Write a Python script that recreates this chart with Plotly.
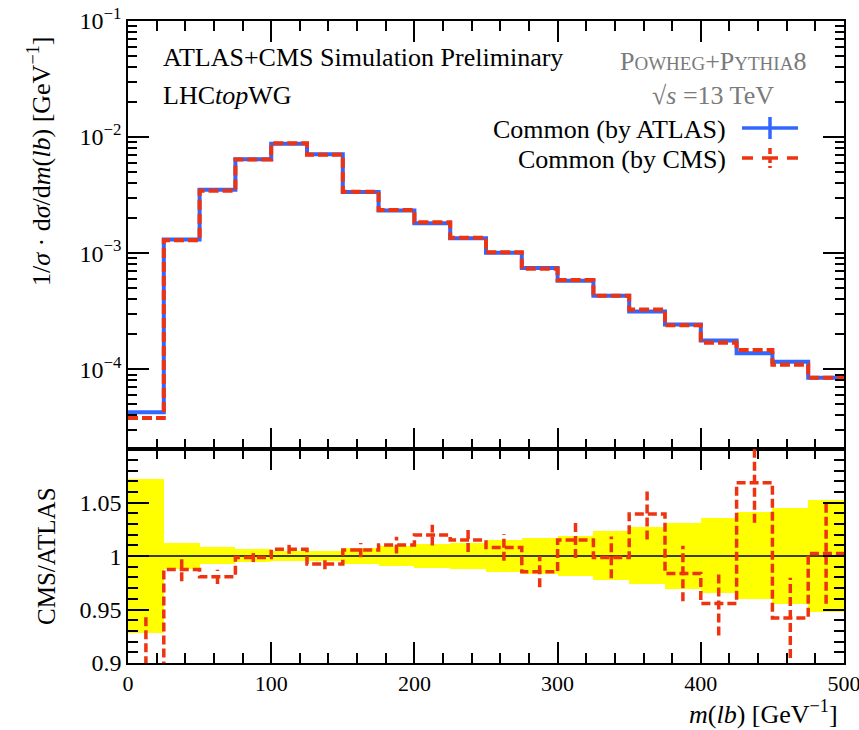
import plotly.graph_objects as go

# ---------------- data ----------------
bin_edges = [0, 25, 50, 75, 100, 125, 150, 175, 200, 225, 250,
             275, 300, 325, 350, 375, 400, 425, 450, 475, 500]
atlas_vals = [4.26e-5, 1.31e-3, 3.52e-3, 6.43e-3, 8.77e-3, 7.10e-3, 3.36e-3,
              2.33e-3, 1.81e-3, 1.34e-3, 1.007e-3, 7.43e-4, 5.78e-4, 4.30e-4,
              3.14e-4, 2.43e-4, 1.77e-4, 1.37e-4, 1.16e-4, 8.43e-5]
cms_vals = [3.79e-5, 1.294e-3, 3.452e-3, 6.422e-3, 8.825e-3, 7.047e-3, 3.379e-3,
            2.354e-3, 1.846e-3, 1.360e-3, 1.015e-3, 7.32e-4, 5.867e-4, 4.295e-4,
            3.264e-4, 2.391e-4, 1.692e-4, 1.464e-4, 1.093e-4, 8.45e-5]
ratio_vals = [0.89, 0.9875, 0.9806, 0.9988, 1.0063, 0.9925, 1.0056, 1.0103,
              1.0197, 1.015, 1.0081, 0.9853, 1.015, 0.9988, 1.0394, 0.9838,
              0.9557, 1.0687, 0.9422, 1.0025]
ratio_errs = [0.053, 0.011, 0.0067, 0.0044, 0.0042, 0.0048, 0.0067, 0.0078,
              0.0097, 0.0112, 0.0125, 0.0145, 0.0167, 0.0195, 0.0239, 0.026,
              0.030, 0.0375, 0.0375, 0.047]
atlas_band = [0.072, 0.0125, 0.008, 0.006, 0.0047, 0.005, 0.0078, 0.0097,
              0.011, 0.0119, 0.0153, 0.0172, 0.019, 0.023, 0.0266, 0.0305,
              0.0351, 0.0406, 0.0448, 0.0523]
main_ytickvals = [1e-4, 1e-3, 1e-2, 1e-1]
main_yticktext = ["10<sup>−4</sup>", "10<sup>−3</sup>", "10<sup>−2</sup>", "10<sup>−1</sup>"]
ratio_tickvals = [0.9, 0.95, 1.0, 1.05, 1.1]
ratio_ticktext = ["0.9", "0.95", "1", "1.05", ""]
x_tickvals = [0, 100, 200, 300, 400, 500]

BLUE = "#3366FF"
RED = "#EE3311"
FONT = "Liberation Serif"

centers = [(bin_edges[i] + bin_edges[i + 1]) / 2 for i in range(len(atlas_vals))]
widths = [bin_edges[i + 1] - bin_edges[i] for i in range(len(atlas_vals))]

W, H = 859, 730
ML, MR, MT, MB = 128, 15, 21, 67
PW, PH = W - ML - MR, H - MT - MB


def px(x, y):
    return (x - ML) / PW, (H - MB - y) / PH


fig = go.Figure()

# main panel
fig.add_trace(go.Scatter(x=bin_edges, y=atlas_vals + [atlas_vals[-1]], mode="lines",
                         line=dict(shape="hv", color=BLUE, width=4),
                         xaxis="x", yaxis="y", showlegend=False))
fig.add_trace(go.Scatter(x=bin_edges, y=cms_vals + [cms_vals[-1]], mode="lines",
                         line=dict(shape="hv", color=RED, width=4, dash="10px,4px"),
                         xaxis="x", yaxis="y", showlegend=False))

# ratio panel: ATLAS uncertainty band
fig.add_trace(go.Bar(x=centers, y=[2 * b for b in atlas_band],
                     base=[1 - b for b in atlas_band], width=widths,
                     marker=dict(color="#FFFF00", line=dict(width=0)),
                     xaxis="x2", yaxis="y2", showlegend=False, hoverinfo="skip"))
fig.add_trace(go.Scatter(x=[bin_edges[0], bin_edges[-1]], y=[1, 1], mode="lines",
                         line=dict(color="black", width=1.5),
                         xaxis="x2", yaxis="y2", showlegend=False))
fig.add_trace(go.Scatter(x=bin_edges, y=ratio_vals + [ratio_vals[-1]], mode="lines",
                         line=dict(shape="hv", color=RED, width=3.5, dash="9px,4px"),
                         xaxis="x2", yaxis="y2", showlegend=False))
ex, ey = [], []
for c, r, e in zip(centers, ratio_vals, ratio_errs):
    ex += [c, c, None]
    ey += [r - e, r + e, None]
fig.add_trace(go.Scatter(x=ex, y=ey, mode="lines",
                         line=dict(color=RED, width=3.5, dash="9px,4px"),
                         xaxis="x2", yaxis="y2", showlegend=False))

axis_common = dict(showline=True, linecolor="black", linewidth=1.5, mirror="allticks",
                   ticks="inside", tickcolor="black", tickwidth=1.5, showgrid=False,
                   zeroline=False, ticklabeloverflow="allow", automargin=False)
yfont = dict(family=FONT, size=24, color="black")
xfont = dict(family=FONT, size=22, color="black")

fig.update_layout(
    width=W, height=H, margin=dict(l=ML, r=MR, t=MT, b=MB, autoexpand=False),
    paper_bgcolor="white", plot_bgcolor="white", bargap=0,
    xaxis=dict(domain=[0, 1], anchor="y", range=[0, 500], tickvals=x_tickvals,
               showticklabels=False, ticklen=21, tickfont=xfont,
               minor=dict(ticks="inside", dtick=20, tick0=0, ticklen=10,
                          tickwidth=1.5, tickcolor="black"), **axis_common),
    yaxis=dict(domain=[0.334, 1], anchor="x", type="log", range=[-4.684, -1.0],
               tickvals=main_ytickvals, ticktext=main_yticktext, ticklen=21,
               tickfont=yfont,
               minor=dict(ticks="inside", dtick="D1", ticklen=9, tickwidth=1.5,
                          tickcolor="black"), **axis_common),
    xaxis2=dict(domain=[0, 1], anchor="y2", range=[0, 500], tickvals=x_tickvals,
                ticklen=21, tickfont=xfont,
                minor=dict(ticks="inside", dtick=20, tick0=0, ticklen=10,
                           tickwidth=1.5, tickcolor="black"), **axis_common),
    yaxis2=dict(domain=[0, 0.333], anchor="x2", range=[0.9, 1.1],
                tickvals=ratio_tickvals, ticktext=ratio_ticktext, ticklen=21,
                tickfont=yfont,
                minor=dict(ticks="inside", dtick=0.01, tick0=0.9, ticklen=10,
                           tickwidth=1.5, tickcolor="black"), **axis_common),
)

ann = []


def add_text(text, x, y, xanchor="left", size=21, color="black", angle=0):
    xp, yp = px(x, y)
    ann.append(dict(text=text, x=xp, y=yp, xref="paper", yref="paper",
                    xanchor=xanchor, yanchor="middle", showarrow=False,
                    textangle=angle, font=dict(family=FONT, size=size, color=color)))


add_text("ATLAS+CMS Simulation Preliminary", 161, 58, size=26)
add_text("LHC<i>top</i>WG", 161, 95, size=26)
add_text("P<span style='font-size:19px'>OWHEG</span>+P<span style='font-size:19px'>YTHIA</span>8",
         713, 62, xanchor="center", size=26, color="#7a7a7a")
add_text("√<i>s</i> =13 TeV", 713, 95, xanchor="center", size=26, color="#7a7a7a")
add_text("Common (by ATLAS)", 728, 129, xanchor="right", size=26)
add_text("Common (by CMS)", 728, 159, xanchor="right", size=26)
add_text("1/<i>σ</i> · d<i>σ</i>/d<i>m</i>(<i>lb</i>) [GeV<sup>−1</sup>]", 40, 162,
         xanchor="center", size=26, angle=-90)
add_text("CMS/ATLAS", 46, 556, xanchor="center", size=25, angle=-90)
add_text("<i>m</i>(<i>lb</i>) [GeV<sup>−1</sup>]", 840, 712, xanchor="right", size=26)
fig.update_layout(annotations=ann)

# legend glyphs
shapes = []


def seg(x0, y0, x1, y1, color, dash=None, width=3.5):
    a0, b0 = px(x0, y0)
    a1, b1 = px(x1, y1)
    ln = dict(color=color, width=width)
    if dash:
        ln["dash"] = dash
    shapes.append(dict(type="line", xref="paper", yref="paper", x0=a0, y0=b0,
                       x1=a1, y1=b1, line=ln))


seg(742, 128, 798, 128, BLUE)
seg(770, 117, 770, 139, BLUE)
seg(742, 158, 753, 158, RED)
seg(762, 158, 778, 158, RED)
seg(787, 158, 798, 158, RED)
seg(770, 148, 770, 168, RED, dash="6px,3px")
fig.update_layout(shapes=shapes)

fig.write_html("out.html")
